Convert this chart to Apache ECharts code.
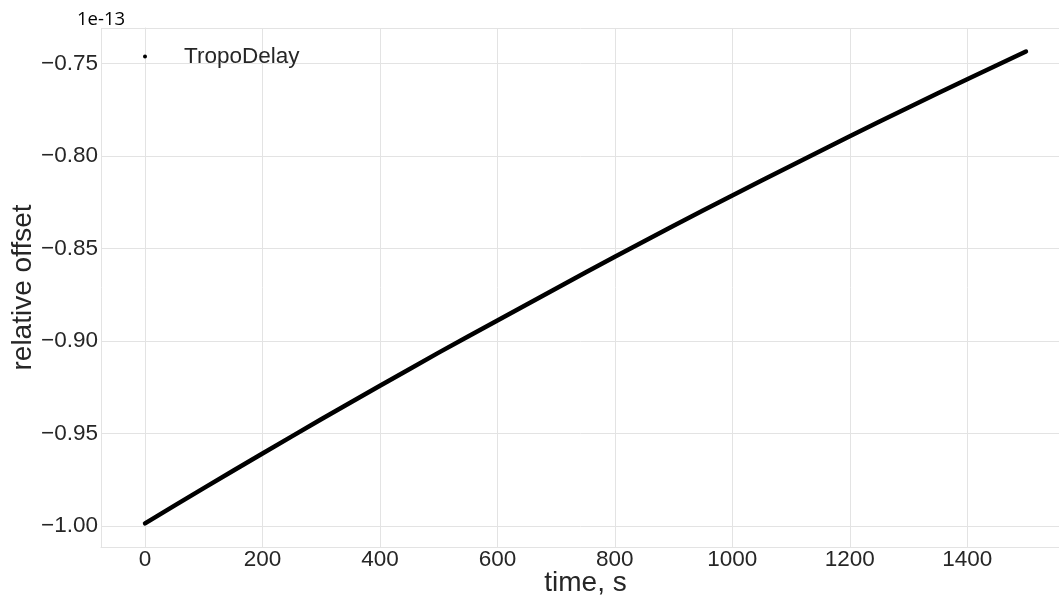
<!DOCTYPE html>
<html>
<head>
<meta charset="utf-8">
<script src="https://cdn.jsdelivr.net/npm/echarts@6/dist/echarts.min.js"></script>
<style>
html,body{margin:0;padding:0;background:#fff;}
#chart{width:1059px;height:601px;}
</style>
</head>
<body>
<div id="chart"></div>
<script>
// time in seconds
const timeSec = [0, 100, 200, 300, 400, 500, 600, 700, 800, 900, 1000, 1100, 1200, 1300, 1400, 1500];
// relative offset, in units of 1e-13
const tropoDelay = [-0.9985, -0.9795, -0.9608, -0.9423, -0.9242, -0.9063, -0.8889, -0.8716, -0.8545, -0.8377, -0.8214, -0.8053, -0.7894, -0.7738, -0.7586, -0.7436];
const seriesName = 'TropoDelay';
const offsetText = '1e-13';

const points = timeSec.map((t, i) => [t, tropoDelay[i]]);

const chart = echarts.init(document.getElementById('chart'));
const gridColor = '#e3e3e3';
const textColor = '#262626';
const fontFam = '"Liberation Sans", Arial, sans-serif';

chart.setOption({
  animation: false,
  backgroundColor: '#fff',
  grid: { left: 101, right: -11, top: 28, bottom: 54, containLabel: false, outerBoundsMode: 'none' },
  legend: {
    data: [seriesName],
    left: 138, top: 40,
    icon: 'circle',
    itemWidth: 68, itemHeight: 4,
    textStyle: { fontSize: 22.5, color: textColor, fontFamily: fontFam }
  },
  graphic: [{
    type: 'text', left: 77, top: 10,
    style: { text: offsetText, fontSize: 18.5, fill: '#000', fontFamily: '"Open Sans", sans-serif' }
  }],
  xAxis: {
    type: 'value', min: -75, max: 1575, splitNumber: 8,
    name: 'time, s', nameLocation: 'middle', nameGap: 22, nameMoveOverlap: false,
    nameTextStyle: { fontSize: 28, color: textColor, fontFamily: fontFam },
    axisLine: { show: true, lineStyle: { color: gridColor, width: 1 } },
    axisTick: { show: false },
    axisLabel: {
      showMinLabel: false, showMaxLabel: false, fontSize: 22.5, color: textColor, fontFamily: fontFam, margin: 1,
      formatter: v => String(Math.round(v))
    },
    splitLine: { show: true, lineStyle: { color: gridColor, width: 1 } }
  },
  yAxis: {
    type: 'value', min: -1.0113, max: -0.7309, splitNumber: 6,
    name: 'relative offset', nameLocation: 'middle', nameGap: 64, nameMoveOverlap: false,
    nameTextStyle: { fontSize: 28, color: textColor, fontFamily: fontFam },
    axisLine: { show: true, lineStyle: { color: gridColor, width: 1 } },
    axisTick: { show: false },
    axisLabel: {
      showMinLabel: false, showMaxLabel: false, fontSize: 22.5, color: textColor, fontFamily: fontFam, margin: 3,
      formatter: v => (v < 0 ? '\u2212' : '') + Math.abs(v).toFixed(2)
    },
    splitLine: { show: true, lineStyle: { color: gridColor, width: 1 } }
  },
  series: [{
    name: seriesName,
    type: 'line',
    data: points,
    showSymbol: false,
    smooth: 0.2,
    itemStyle: { color: '#000' },
    lineStyle: { color: '#000', width: 4.5, cap: 'round' },
    silent: true
  }]
});
</script>
</body>
</html>
